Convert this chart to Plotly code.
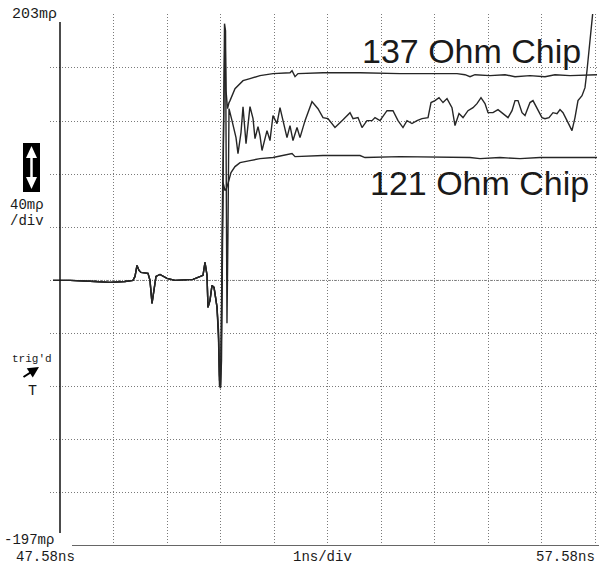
import plotly.graph_objects as go

# ---------------- data (time in ns, reflection in milli-rho) ----------------
pre_t = [47.449, 47.767, 48.234, 48.515, 48.795, 48.944, 48.982, 49.019, 49.057, 49.094,
         49.225, 49.262, 49.300, 49.337, 49.374, 49.449, 49.580, 49.730, 50.066, 50.159,
         50.253, 50.290, 50.328, 50.346, 50.384, 50.421, 50.459, 50.496, 50.515]
pre_r = [3.0, 3.0, 2.2, 1.5, 2.2, 3.0, 6.0, 14.3, 10.5, 9.0,
         8.3, 3.0, -14.3, -4.5, 6.0, 7.5, 4.5, 3.0, 3.8, 5.3,
         6.8, 16.5, 6.8, -17.3, -12.0, -0.8, -2.3, -12.0, -17.3]

t_137 = [50.543, 50.561, 50.580, 50.599, 50.617, 50.636, 50.651, 50.664, 50.683, 50.711,
         50.739, 50.758, 50.851, 50.945, 51.001, 51.131, 51.318, 51.561, 51.879, 51.917,
         51.973, 52.029, 52.496, 53.188, 53.935, 55.001, 55.150, 55.244, 55.337, 55.617,
         55.898, 56.085, 56.365, 56.645, 56.832, 57.113, 57.393, 57.618]
r_137 = [-34.6, -68.4, -76.0, -34.6, 63.2, 130.8, 183.5, 192.5, 145.9, 132.3,
         136.9, 138.4, 147.4, 151.1, 153.4, 154.9, 157.2, 158.7, 159.4, 160.9,
         156.4, 158.7, 159.4, 159.4, 158.7, 158.7, 157.9, 156.4, 157.9, 157.2,
         157.9, 156.4, 157.2, 156.4, 157.9, 157.2, 157.9, 157.9]

t_121 = [50.543, 50.561, 50.580, 50.599, 50.614, 50.627, 50.664, 50.692, 50.720, 50.776,
         50.851, 50.945, 51.131, 51.318, 51.561, 51.879, 51.917, 51.973, 52.496, 53.188,
         53.281, 53.935, 54.870, 55.244, 55.430, 55.804, 56.178, 56.552, 56.926, 57.300,
         57.618]
r_121 = [-38.4, -72.2, -76.7, -27.1, 40.6, 76.7, 70.7, 72.2, 75.9, 84.2,
         88.7, 91.7, 93.2, 94.7, 95.5, 97.8, 98.5, 96.2, 97.0, 97.0,
         95.5, 96.2, 95.5, 95.5, 94.7, 95.5, 94.7, 95.5, 95.5, 95.5,
         95.5]

t_mid = [50.543, 50.561, 50.580, 50.599, 50.617, 50.636, 50.655, 50.674, 50.689, 50.701,
         50.720, 50.739, 50.795, 50.870, 50.907, 50.963, 51.001, 51.057, 51.131, 51.188,
         51.225, 51.281, 51.318, 51.356, 51.449, 51.505, 51.561, 51.636, 51.692, 51.748,
         51.823, 51.879, 51.935, 52.010, 52.066, 52.160, 52.290, 52.402, 52.496, 52.589,
         52.720, 52.851, 53.001, 53.057, 53.150, 53.225, 53.318, 53.412, 53.468, 53.561,
         53.692, 53.804, 53.898, 53.991, 54.066, 54.159, 54.253, 54.346, 54.459, 54.515,
         54.589, 54.664, 54.739, 54.814, 54.907, 54.963, 55.038, 55.113, 55.206, 55.300,
         55.374, 55.449, 55.524, 55.580, 55.673, 55.767, 55.860, 55.954, 56.029, 56.085,
         56.141, 56.216, 56.272, 56.365, 56.421, 56.515, 56.589, 56.645, 56.720, 56.795,
         56.870, 56.926, 56.982, 57.057, 57.150, 57.206, 57.262, 57.337, 57.393, 57.430,
         57.487, 57.524, 57.561]
r_mid = [-42.1, -76.0, -78.2, -57.2, 25.6, 138.4, 196.3, 191.0, 63.2, -29.3,
         40.6, 132.3, 123.3, 110.5, 98.5, 114.3, 133.8, 106.0, 133.8, 124.8,
         109.8, 118.8, 112.0, 100.8, 115.8, 108.3, 127.1, 121.1, 133.1, 123.3,
         110.5, 119.6, 108.3, 118.1, 110.5, 123.3, 137.6, 132.3, 125.6, 124.8,
         118.1, 123.3, 129.3, 124.8, 125.6, 118.1, 123.3, 123.3, 125.6, 123.3,
         130.8, 130.8, 123.3, 118.1, 123.3, 121.1, 123.3, 124.8, 125.6, 136.9,
         138.4, 140.6, 136.9, 139.9, 133.1, 119.6, 128.6, 125.6, 130.8, 133.1,
         136.1, 140.6, 136.1, 129.3, 129.3, 131.6, 128.6, 125.6, 130.8, 138.4,
         138.4, 129.3, 127.1, 136.9, 138.4, 130.8, 125.6, 124.8, 125.6, 129.3,
         128.6, 131.6, 129.3, 123.3, 115.8, 125.6, 138.4, 142.1, 148.1, 160.9,
         183.5, 198.5, 213.6]

t_start, t_end, t_div = 47.58, 57.58, 1.0
r_bottom, r_top, r_div = -197, 203, 40
r_center = 3

labels = {
    "top": "203mρ", "bottom": "-197mρ", "left": "47.58ns", "mid": "1ns/div",
    "right": "57.58ns", "scale1": "40mρ", "scale2": "/div", "trig": "trig'd", "T": "T",
    "c137": "137 Ohm Chip", "c121": "121 Ohm Chip",
}

# ---------------- figure ----------------
W, H = 599, 569
ML, MR, MT, MB = 50, 0, 14, 23
pw, ph = W - ML - MR, H - MT - MB


def px(x):
    return (x - ML) / pw


def py(y):
    return (H - MB - y) / ph


fig = go.Figure()
trace_color = "#262626"
for tt, rr, name in [(t_121, r_121, "121 Ohm"), (t_137, r_137, "137 Ohm"), (t_mid, r_mid, "trace")]:
    fig.add_trace(go.Scatter(x=pre_t + tt, y=pre_r + rr, mode="lines", name=name,
                             line=dict(color=trace_color, width=1.4), showlegend=False,
                             hoverinfo="skip"))

x_lo = t_start - (60 - ML) / 53.5
x_hi = t_end + 4 / 53.5

fig.update_layout(
    width=W, height=H, margin=dict(l=ML, r=MR, t=MT, b=MB),
    paper_bgcolor="white", plot_bgcolor="white", showlegend=False,
    xaxis=dict(range=[x_lo, x_hi], tickvals=[t_start + k * t_div for k in range(1, 11)],
               showticklabels=False, ticks="", showline=False, zeroline=False,
               showgrid=True, gridcolor="#7a7a7a", gridwidth=1, griddash="1px,2px"),
    yaxis=dict(range=[r_bottom, r_top + 0.6], tickvals=[r_bottom + k * r_div for k in range(1, 11)],
               showticklabels=False, ticks="", showline=False, zeroline=False,
               showgrid=True, gridcolor="#7a7a7a", gridwidth=1, griddash="1px,2px"),
)

shapes = []
shapes.append(dict(type="line", xref="x", yref="y", x0=t_start, x1=x_hi, y0=r_center, y1=r_center,
                   line=dict(color="#8a8a8a", width=1, dash="1px,1px"), layer="below"))
shapes.append(dict(type="line", xref="x", yref="paper", x0=t_start, x1=t_start, y0=py(533), y1=py(22),
                   line=dict(color="#111111", width=1.5)))
shapes.append(dict(type="line", xref="paper", yref="y", x0=px(72), x1=px(599), y0=r_bottom, y1=r_bottom,
                   line=dict(color="#666666", width=2.2)))
shapes.append(dict(type="rect", xref="paper", yref="paper", x0=px(23), x1=px(40), y0=py(192), y1=py(143),
                   fillcolor="black", line=dict(width=0)))
shapes.append(dict(type="line", xref="paper", yref="paper", x0=px(31.5), x1=px(31.5), y0=py(182), y1=py(153),
                   line=dict(color="white", width=2.5)))


def tri(tipy, basey):
    return (f"M {px(31.5)},{py(tipy)} L {px(26)},{py(basey)} L {px(37)},{py(basey)} Z")


shapes.append(dict(type="path", xref="paper", yref="paper", path=tri(146, 158),
                   fillcolor="white", line=dict(width=0)))
shapes.append(dict(type="path", xref="paper", yref="paper", path=tri(189, 177),
                   fillcolor="white", line=dict(width=0)))
fig.update_layout(shapes=shapes)

mono = "Liberation Mono"
col = "#1a1a1a"


def ann(text, x, y, size, xanchor="left", family=mono):
    fig.add_annotation(text=text, xref="paper", yref="paper", x=px(x), y=py(y), showarrow=False,
                       xanchor=xanchor, yanchor="middle", font=dict(family=family, size=size, color=col))


ann(labels["top"], 10, 14, 15)
ann(labels["bottom"], 2, 540, 14)
ann(labels["left"], 14, 557, 14)
ann(labels["mid"], 322, 557, 14, xanchor="center")
ann(labels["right"], 597, 557, 14, xanchor="right")
ann(labels["scale1"], 8, 205, 14)
ann(labels["scale2"], 8, 221, 14)
ann(labels["trig"], 10, 359, 11)
ann(labels["T"], 32, 391, 15, xanchor="center")
ann(labels["c137"], 360, 51, 34, family="Liberation Sans")
ann(labels["c121"], 368, 183, 34, family="Liberation Sans")

fig.add_annotation(xref="paper", yref="paper", x=px(39), y=py(367), ax=-17, ay=11, text="",
                   showarrow=True, arrowhead=2, arrowsize=1.1, arrowwidth=2, arrowcolor="black")

fig.write_html("out.html", config={"displayModeBar": False, "staticPlot": True},
               post_script="document.body.style.margin='0';document.body.style.overflow='hidden';")
